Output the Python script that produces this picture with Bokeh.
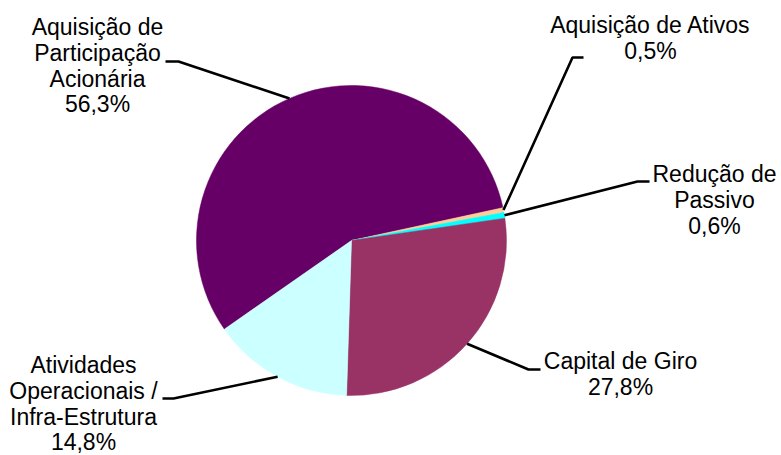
from bokeh.plotting import figure
from bokeh.models import Range1d, ColumnDataSource
from bokeh.core.properties import value
from bokeh.embed import file_html
from bokeh.resources import INLINE
import math

# ---- data ----
categories = ["Aquisição de Participação Acionária", "Aquisição de Ativos",
              "Redução de Passivo", "Capital de Giro",
              "Atividades Operacionais / Infra-Estrutura"]
label_lines = [["Aquisição de", "Participação", "Acionária"],
               ["Aquisição de Ativos"],
               ["Redução de", "Passivo"],
               ["Capital de Giro"],
               ["Atividades", "Operacionais /", "Infra-Estrutura"]]
shares = [56.3, 0.5, 0.6, 27.8, 14.8]
colors = ["#660066", "#FFCC99", "#00FFFF", "#993366", "#CCFFFF"]

# ---- layout (picture pixel coordinates) ----
W, H = 781, 455
CX, CY, R = 351, 240, 155
START = 214.9  # degrees, slices proceed clockwise
# elbow point, end of horizontal stub, text centre x, first baseline y
label_layout = [
    ((178, 61), (165, 61), 97, 34),
    ((572, 57), (583, 57), 650, 32),
    ((637, 181), (649, 181), 714, 181),
    ((528, 369), (540, 369), 620, 368),
    ((173, 398), (162, 398), 83, 372),
]
PITCH = 25.8
FONT = "23px"
BASE_FIX = -7.5

p = figure(width=W, height=H, output_backend="svg", toolbar_location=None,
           x_range=Range1d(0, W), y_range=Range1d(-H, 0),
           min_border=0)
p.axis.visible = False
p.grid.visible = False
p.outline_line_color = None
p.background_fill_color = "white"
p.border_fill_color = "white"

total = sum(shares)
starts, ends, mids = [], [], []
cum = 0.0
for v in shares:
    a0 = START - cum / total * 360.0
    cum += v
    a1 = START - cum / total * 360.0
    starts.append(math.radians(a1))
    ends.append(math.radians(a0))
    mids.append(math.radians((a0 + a1) / 2))

src = ColumnDataSource(dict(x=[CX] * len(shares), y=[-CY] * len(shares),
                            s=starts, e=ends, c=colors))
p.wedge(x="x", y="y", radius=R, start_angle="s", end_angle="e",
        fill_color="c", line_color="c", line_width=0.5, source=src)

xs, ys = [], []
tx, ty, tt = [], [], []
for i, v in enumerate(shares):
    (ex, ey), (hx, hy), cx, by = label_layout[i]
    sx = CX + R * math.cos(mids[i])
    sy = CY - R * math.sin(mids[i])
    xs.append([sx, ex, hx])
    ys.append([-sy, -ey, -hy])
    lines = label_lines[i] + [f"{v:.1f}%".replace(".", ",")]
    for j, t in enumerate(lines):
        tx.append(cx)
        ty.append(-(by + BASE_FIX + j * PITCH))
        tt.append(t)

p.multi_line(xs=xs, ys=ys, line_color="black", line_width=2.6)
p.text(x=tx, y=ty, text=tt, text_font=value("Liberation Sans"),
       text_font_size=FONT, text_align="center", text_baseline="alphabetic",
       text_color="black")

open("out.html", "w").write(file_html(p, INLINE))
